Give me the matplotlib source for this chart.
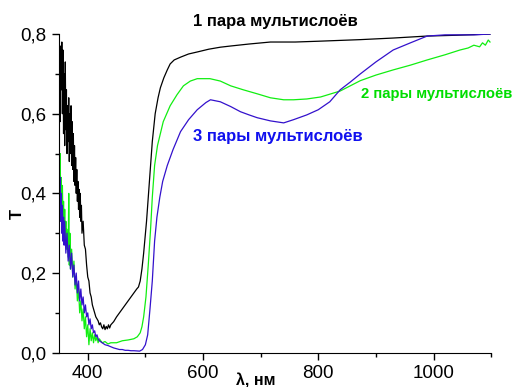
import matplotlib
matplotlib.use('Agg')
import matplotlib.pyplot as plt
from matplotlib.ticker import MultipleLocator, FuncFormatter

plt.rcParams['font.family'] = ['Liberation Sans', 'DejaVu Sans']

# 1 pair of multilayers (black)
wl_1 = [350, 351, 352, 353, 354, 355, 356, 357, 358, 359, 360, 361, 362, 363, 364, 365,
        366, 367, 368, 369, 370, 371, 372, 373, 374, 375, 376, 377, 378, 379, 380, 381,
        382, 383, 384, 385, 386, 387, 388, 389, 390, 392, 394, 396, 398, 400, 402, 404,
        406, 408, 410, 412, 414, 416, 418, 420, 422, 424, 426, 428, 430, 432, 434, 436,
        438, 440, 445, 450, 455, 460, 465, 470, 475, 480, 485, 488, 491, 494, 497, 502,
        507, 512, 517, 522, 526, 532, 538, 543, 550, 561, 575, 590, 610, 630, 648, 680,
        717, 760, 800, 873, 930, 989, 1040, 1098]
t_1 = [0.62, 0.72, 0.58, 0.77, 0.66, 0.78, 0.60, 0.76, 0.55, 0.70, 0.52, 0.73, 0.56, 0.66, 0.50, 0.62,
       0.53, 0.64, 0.48, 0.60, 0.50, 0.62, 0.47, 0.58, 0.46, 0.55, 0.43, 0.52, 0.42, 0.49, 0.40, 0.46,
       0.38, 0.43, 0.36, 0.41, 0.34, 0.40, 0.33, 0.37, 0.30, 0.33, 0.27, 0.26, 0.22, 0.19, 0.18, 0.15,
       0.14, 0.12, 0.11, 0.10, 0.09, 0.085, 0.08, 0.07, 0.075, 0.065, 0.06, 0.07, 0.058, 0.066, 0.06, 0.07,
       0.062, 0.07, 0.078, 0.09, 0.10, 0.11, 0.12, 0.13, 0.14, 0.15, 0.16, 0.165, 0.18, 0.21, 0.25, 0.33,
       0.43, 0.53, 0.60, 0.64, 0.665, 0.69, 0.71, 0.725, 0.735, 0.742, 0.75, 0.755, 0.762, 0.767, 0.77, 0.775,
       0.78, 0.78, 0.782, 0.786, 0.79, 0.795, 0.797, 0.80]

# 2 pairs of multilayers (green)
wl_2 = [350, 351, 352, 353, 354, 355, 356, 357, 358, 359, 360, 361, 362, 363, 364, 366,
        367, 368, 369, 370, 372, 374, 376, 378, 380, 382, 384, 386, 388, 390, 392, 394,
        396, 398, 400, 402, 404, 406, 408, 410, 412, 414, 416, 418, 420, 425, 430, 435,
        440, 450, 460, 470, 480, 486, 491, 494, 497, 501, 505, 509, 512, 516, 521, 531,
        543, 555, 566, 578, 590, 612, 630, 648, 670, 694, 717, 740, 757, 780, 804, 838,
        873, 900, 930, 960, 989, 1020, 1046, 1060, 1070, 1080, 1085, 1090, 1095, 1098]
t_2 = [0.53, 0.45, 0.50, 0.40, 0.44, 0.36, 0.42, 0.33, 0.38, 0.30, 0.36, 0.28, 0.33, 0.26, 0.31, 0.24,
       0.40, 0.22, 0.30, 0.21, 0.26, 0.19, 0.23, 0.16, 0.19, 0.13, 0.16, 0.10, 0.13, 0.08, 0.11, 0.06,
       0.09, 0.04, 0.07, 0.02, 0.06, 0.03, 0.05, 0.025, 0.045, 0.03, 0.04, 0.025, 0.035, 0.025, 0.028, 0.022,
       0.025, 0.025, 0.03, 0.032, 0.035, 0.04, 0.05, 0.065, 0.09, 0.14, 0.22, 0.31, 0.39, 0.47, 0.52, 0.58,
       0.62, 0.648, 0.67, 0.682, 0.688, 0.688, 0.682, 0.67, 0.66, 0.65, 0.64, 0.635, 0.635, 0.637, 0.642, 0.657,
       0.683, 0.697, 0.71, 0.722, 0.735, 0.748, 0.76, 0.765, 0.772, 0.768, 0.778, 0.772, 0.785, 0.78]

# 3 pairs of multilayers (blue)
wl_3 = [350, 351, 352, 353, 354, 355, 356, 357, 358, 359, 360, 362, 364, 366, 368, 370,
        372, 374, 376, 378, 380, 382, 384, 386, 388, 390, 392, 394, 396, 398, 400, 402,
        404, 406, 408, 410, 412, 414, 416, 418, 420, 425, 430, 435, 440, 445, 450, 455,
        460, 465, 470, 475, 480, 490, 495, 500, 504, 508, 512, 516, 520, 525, 530, 538,
        548, 561, 575, 590, 605, 613, 630, 648, 665, 680, 694, 717, 740, 757, 780, 800,
        820, 838, 856, 873, 900, 930, 960, 989, 1020, 1046, 1070, 1098]
t_3 = [0.46, 0.38, 0.44, 0.33, 0.40, 0.30, 0.37, 0.28, 0.34, 0.27, 0.33, 0.25, 0.30, 0.23, 0.27, 0.21,
       0.25, 0.19, 0.22, 0.17, 0.20, 0.15, 0.18, 0.13, 0.16, 0.12, 0.14, 0.10, 0.12, 0.09, 0.10, 0.07,
       0.085, 0.06, 0.07, 0.05, 0.055, 0.04, 0.045, 0.035, 0.03, 0.025, 0.02, 0.018, 0.015, 0.012, 0.01, 0.008,
       0.008, 0.006, 0.006, 0.005, 0.005, 0.004, 0.008, 0.02, 0.045, 0.11, 0.18, 0.28, 0.34, 0.39, 0.43, 0.47,
       0.51, 0.555, 0.585, 0.61, 0.628, 0.635, 0.63, 0.618, 0.605, 0.597, 0.59, 0.582, 0.577, 0.585, 0.597, 0.61,
       0.63, 0.66, 0.68, 0.70, 0.73, 0.76, 0.778, 0.795, 0.798, 0.798, 0.798, 0.80]

fig = plt.figure(figsize=(5.17, 3.87), dpi=100)
ax = fig.add_axes([0.114, 0.0886, 0.836, 0.8234])

ax.plot(wl_1, t_1, color='black', lw=0.9)
ax.plot(wl_2, t_2, color='#11ee11', lw=0.9)
ax.plot(wl_3, t_3, color='#3311cc', lw=0.9)

ax.set_xlim(350, 1100)
ax.set_ylim(0, 0.8)
ax.spines['top'].set_visible(False)
ax.spines['right'].set_visible(False)
ax.xaxis.set_major_locator(MultipleLocator(200))
ax.xaxis.set_minor_locator(MultipleLocator(100))
ax.yaxis.set_major_locator(MultipleLocator(0.2))
ax.yaxis.set_minor_locator(MultipleLocator(0.1))
ax.yaxis.set_major_formatter(FuncFormatter(lambda v, p: f'{v:.1f}'.replace('.', ',')))
ax.tick_params(which='major', direction='out', length=5, width=1, labelsize=13.5)
ax.tick_params(axis='x', which='major', pad=4)
ax.tick_params(axis='y', which='major', pad=4)
ax.tick_params(which='minor', direction='out', length=3, width=1)

ax.set_xlabel('λ, нм', fontsize=11.5, fontweight='bold')
ax.xaxis.set_label_coords(0.456, -0.064)
ax.set_ylabel('T', fontsize=12, fontweight='bold')
ax.yaxis.set_label_coords(-0.079, 0.435)

ax.text(0.31, 1.038, '1 пара мультислоёв', transform=ax.transAxes, fontsize=12,
        fontweight='bold', color='black', ha='left', va='center')
ax.text(0.699, 0.812, '2 пары мультислоёв', transform=ax.transAxes, fontsize=10.7,
        fontweight='bold', color='#00dd00', ha='left', va='center')
ax.text(0.31, 0.677, '3 пары мультислоёв', transform=ax.transAxes, fontsize=12,
        fontweight='bold', color='#1010ee', ha='left', va='center')

fig.savefig('out.png', dpi=100)
